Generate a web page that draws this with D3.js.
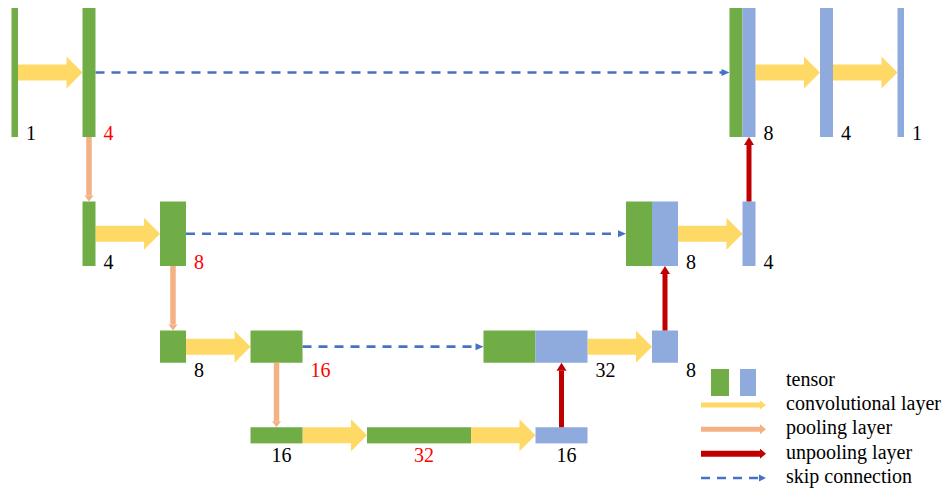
<!DOCTYPE html>
<html>
<head>
<meta charset="utf-8">
<script src="https://cdn.jsdelivr.net/npm/d3@7"></script>
</head>
<body style="margin:0">
<svg id="chart" width="949" height="491"></svg>
<script>
// tensors of the U, in drawing order
const tensorIds    = ['in', 'e0', 'e1a', 'e1b', 'e2a', 'e2b', 'e3a', 'e3b', 'd3', 'c2', 'd2', 'c1', 'd1', 'c0', 'd0', 'out'];
const tensorLevel  = [0, 0, 1, 1, 2, 2, 3, 3, 3, 2, 2, 1, 1, 0, 0, 0];
const encChannels  = [1, 4, 4, 8, 8, 16, 16, 32, 0, 16, 0, 8, 0, 4, 0, 0];   // green part
const decChannels  = [0, 0, 0, 0, 0, 0, 0, 0, 16, 16, 8, 8, 4, 4, 4, 1];    // blue part
const tensorLabels = ['1', '4', '4', '8', '8', '16', '16', '32', '16', '32', '8', '8', '4', '8', '4', '1'];
const redLabels = ['e0', 'e1b', 'e2b', 'e3b'];

// connections
const convLinks    = [['in', 'e0'], ['e1a', 'e1b'], ['e2a', 'e2b'], ['e3a', 'e3b'], ['e3b', 'd3'],
                      ['c2', 'd2'], ['c1', 'd1'], ['c0', 'd0'], ['d0', 'out']];
const poolLinks    = [['e0', 'e1a'], ['e1b', 'e2a'], ['e2b', 'e3a']];
const unpoolLinks  = [['d3', 'c2'], ['d2', 'c1'], ['d1', 'c0']];
const skipLinks    = [['e0', 'c0'], ['e1b', 'c1'], ['e2b', 'c2']];

const legendLabels = ['tensor', 'convolutional layer', 'pooling layer', 'unpooling layer', 'skip connection'];

const colors = {
  enc: '#70AD47', dec: '#8FAADC', conv: '#FFD966', pool: '#F4B183',
  unpool: '#C00000', skip: '#4472C4', red: '#FF0000', text: '#000'
};
const FONT = '"Liberation Serif", Tinos, monospace';

const svg = d3.select('#chart');

// channel count -> width, level -> height
const wScale = d3.scaleLinear().domain([1, 4, 32]).range([6.5, 13, 104]);
const rowHeight = l => 129 / 2 ** l;
const gap = 64.5;
const rowTop = [8];
for (let l = 1; l < 4; l++) rowTop[l] = rowTop[l - 1] + rowHeight(l - 1) + gap;

// build tensors and place them along the links
const tensors = new Map();
tensorIds.forEach((id, i) => {
  const l = tensorLevel[i];
  const gw = encChannels[i] ? wScale(encChannels[i]) : 0;
  const bw = decChannels[i] ? wScale(decChannels[i]) : 0;
  tensors.set(id, {
    id, level: l, enc: encChannels[i], dec: decChannels[i],
    gw, bw, w: gw + bw,
    y: rowTop[l], h: rowHeight(l), label: tensorLabels[i]
  });
});

tensorIds.forEach(id => {
  const t = tensors.get(id);
  const conv = convLinks.find(d => d[1] === id);
  const pool = poolLinks.find(d => d[1] === id);
  const unpool = unpoolLinks.find(d => d[1] === id);
  if (conv) { const s = tensors.get(conv[0]); t.x = s.x + s.w + gap; }
  else if (pool) t.x = tensors.get(pool[0]).x;
  else if (unpool) { const s = tensors.get(unpool[0]); t.x = s.x + s.w - t.w; }
  else t.x = 11.5;
});

const all = Array.from(tensors.values());
const cy = t => t.y + t.h / 2;
const right = t => t.x + t.w;

// skip connections (under everything)
const skipG = svg.append('g');
skipLinks.forEach(([a, b]) => {
  const s = tensors.get(a), e = tensors.get(b);
  const y = cy(s);
  skipG.append('line')
    .attr('x1', right(s)).attr('x2', e.x - 7).attr('y1', y).attr('y2', y)
    .attr('stroke', colors.skip).attr('stroke-width', 2.6).attr('stroke-dasharray', '9,7');
  skipG.append('path')
    .attr('d', `M${e.x - 8},${y - 3.5}L${e.x},${y}L${e.x - 8},${y + 3.5}Z`)
    .attr('fill', colors.skip);
});

// convolution arrows
function fatArrow(x1, x2, y) {
  const hx = x2 - 16;
  return `M${x1},${y - 8}L${hx},${y - 8}L${hx},${y - 16}L${x2},${y}L${hx},${y + 16}L${hx},${y + 8}L${x1},${y + 8}Z`;
}
svg.append('g').selectAll('path')
  .data(convLinks)
  .join('path')
  .attr('d', ([a, b]) => {
    const s = tensors.get(a), e = tensors.get(b);
    return fatArrow(right(s), e.x, cy(e));
  })
  .attr('fill', colors.conv);

// tensors
const tg = svg.append('g');
tg.selectAll('rect.g')
  .data(all.filter(t => t.enc))
  .join('rect')
  .attr('x', t => t.x).attr('y', t => t.y)
  .attr('width', t => t.gw).attr('height', t => t.h)
  .attr('fill', colors.enc);
tg.selectAll('rect.b')
  .data(all.filter(t => t.dec))
  .join('rect')
  .attr('x', t => t.x + t.gw).attr('y', t => t.y)
  .attr('width', t => t.bw).attr('height', t => t.h)
  .attr('fill', colors.dec);

// pooling (down) and unpooling (up) arrows
function vArrow(g, x, y1, y2, color, width, headW, headL) {
  const dir = y2 > y1 ? 1 : -1;
  const yb = y2 - dir * headL;
  g.append('line')
    .attr('x1', x).attr('x2', x).attr('y1', y1).attr('y2', yb)
    .attr('stroke', color).attr('stroke-width', width);
  g.append('path')
    .attr('d', `M${x - headW / 2},${yb}L${x},${y2}L${x + headW / 2},${yb}Z`)
    .attr('fill', color);
}
const vg = svg.append('g');
poolLinks.forEach(([a, b]) => {
  const s = tensors.get(a), e = tensors.get(b);
  vArrow(vg, s.x + s.w / 2, s.y + s.h, e.y, colors.pool, 5.5, 9, 6);
});
unpoolLinks.forEach(([a, b]) => {
  const s = tensors.get(a), e = tensors.get(b);
  vArrow(vg, s.x + s.w / 2, s.y, e.y + e.h, colors.unpool, 5, 10, 8);
});

// channel labels
svg.append('g').selectAll('text')
  .data(all)
  .join('text')
  .attr('x', t => t.level === 3 ? t.x + t.w / 2 + 5 : right(t) + 8)
  .attr('y', t => t.y + t.h + (t.level < 2 ? 3 : t.level === 2 ? 14 : 19))
  .attr('text-anchor', t => t.level === 3 ? 'middle' : 'start')
  .attr('fill', t => redLabels.includes(t.id) ? colors.red : colors.text)
  .attr('font-size', 20)
  .style('font-family', FONT)
  .text(t => t.label);

// legend
const lg = svg.append('g');
const rowY = d3.scaleLinear().domain([0, 4]).range([385.5, 483]);
lg.append('rect').attr('x', 711).attr('y', 369).attr('width', 18).attr('height', 27).attr('fill', colors.enc);
lg.append('rect').attr('x', 740).attr('y', 369).attr('width', 16).attr('height', 27).attr('fill', colors.dec);

function legendArrow(i, color, width, headH, headL) {
  const y = rowY(i) - 5;
  lg.append('line').attr('x1', 701).attr('x2', 766 - headL).attr('y1', y).attr('y2', y)
    .attr('stroke', color).attr('stroke-width', width);
  lg.append('path').attr('d', `M${766 - headL},${y - headH / 2}L766,${y}L${766 - headL},${y + headH / 2}Z`)
    .attr('fill', color);
}
legendArrow(1, colors.conv, 5, 9, 6);
legendArrow(2, colors.pool, 5, 10, 6);
legendArrow(3, colors.unpool, 6, 10, 6);
{
  const y = rowY(4) - 5;
  lg.append('line').attr('x1', 701).attr('x2', 759).attr('y1', y).attr('y2', y)
    .attr('stroke', colors.skip).attr('stroke-width', 2.6).attr('stroke-dasharray', '9,7');
  lg.append('path').attr('d', `M759,${y - 3.5}L766,${y}L759,${y + 3.5}Z`).attr('fill', colors.skip);
}

lg.selectAll('text')
  .data(legendLabels)
  .join('text')
  .attr('x', 786)
  .attr('y', (d, i) => rowY(i))
  .attr('fill', colors.text)
  .attr('font-size', 20)
  .style('font-family', FONT)
  .text(d => d);
</script>
</body>
</html>
